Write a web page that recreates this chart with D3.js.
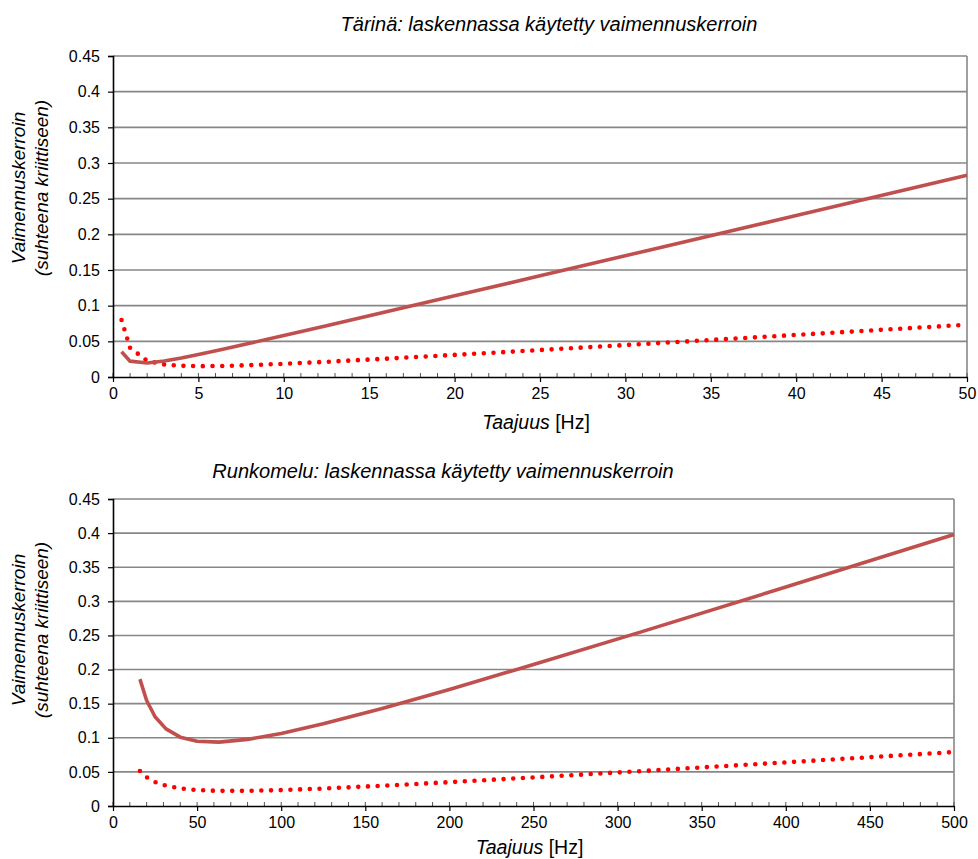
<!DOCTYPE html>
<html>
<head>
<meta charset="utf-8">
<script src="https://cdn.jsdelivr.net/npm/d3@7"></script>
<style>
  body { margin: 0; background: #fff; }
  text { font-family: "Liberation Sans", Arial, sans-serif; fill: #000; }
</style>
</head>
<body>
<svg id="canvas"></svg>
<script>
var width = 978;
var height = 859;

// Tärinä (vibration), Hz
const vibFreq = [0.5, 1, 2, 3, 4, 5, 6.3, 8, 10, 12.5, 16, 20, 25, 31.5, 40, 50];
const vibSolid = [0.0353, 0.0222, 0.0196, 0.0225, 0.0267, 0.0316, 0.0382, 0.0473, 0.0582, 0.0719, 0.0914, 0.1138, 0.1419, 0.1785, 0.2264, 0.2828];
const vibDotted = [0.080, 0.041, 0.0227, 0.0176, 0.0157, 0.0152, 0.0154, 0.0166, 0.0185, 0.0213, 0.0257, 0.0310, 0.0378, 0.0469, 0.0590, 0.0733];

// Runkomelu (structure-borne noise), 1/3 octave bands
const noiseFreq = [16, 20, 25, 31.5, 40, 50, 63, 80, 100, 125, 160, 200, 250, 315, 400, 500];
const noiseSolid = [0.186, 0.1547, 0.1308, 0.113, 0.1009, 0.0949, 0.0936, 0.0976, 0.1063, 0.1204, 0.143, 0.1709, 0.2074, 0.256, 0.321, 0.398];
const noiseDotted = [0.0513, 0.0421, 0.0351, 0.0297, 0.0257, 0.0234, 0.0222, 0.0222, 0.0233, 0.0256, 0.0297, 0.0349, 0.0419, 0.0513, 0.0640, 0.0791];

const yTicks = [0, 0.05, 0.1, 0.15, 0.2, 0.25, 0.3, 0.35, 0.4, 0.45];
const vibXTicks = [0, 5, 10, 15, 20, 25, 30, 35, 40, 45, 50];
const noiseXTicks = [0, 50, 100, 150, 200, 250, 300, 350, 400, 450, 500];

var svg = d3.select('#canvas').attr('width', width).attr('height', height);

function drawChart(cfg) {
    let g = svg.append('g');

    let x = d3.scaleLinear().domain([0, cfg.xMax]).range([cfg.left, cfg.right]);
    let y = d3.scaleLinear().domain([0, 0.45]).range([cfg.bottom, cfg.top]);

    // gridlines
    g.selectAll('.grid')
        .data(yTicks.filter(d => d > 0))
        .enter()
        .append('line')
        .attr('x1', cfg.left).attr('x2', cfg.right)
        .attr('y1', d => y(d)).attr('y2', d => y(d))
        .attr('stroke', '#878787').attr('stroke-width', 1.6);

    // right border
    g.append('line')
        .attr('x1', cfg.right).attr('x2', cfg.right)
        .attr('y1', cfg.top).attr('y2', cfg.bottom)
        .attr('stroke', '#878787').attr('stroke-width', 1.6);

    // minor x ticks (inside)
    g.selectAll('.minor')
        .data(d3.range(0, cfg.xMax + 0.001, cfg.minorStep))
        .enter()
        .append('line')
        .attr('x1', d => x(d)).attr('x2', d => x(d))
        .attr('y1', cfg.bottom).attr('y2', cfg.bottom - 4)
        .attr('stroke', '#555').attr('stroke-width', 1);

    // y axis
    let yAxis = d3.axisLeft(y).tickValues(yTicks).tickSize(5).tickPadding(8)
        .tickFormat(d => String(+d.toFixed(2)));
    let ya = g.append('g').attr('transform', 'translate(' + cfg.left + ',0)').call(yAxis);
    ya.select('.domain').attr('stroke', '#000').attr('stroke-width', 1.6);
    ya.selectAll('.tick line').attr('stroke', '#000').attr('stroke-width', 1.2);
    ya.selectAll('text').style('font-size', '16px').attr('fill', '#000')
        .style('font-family', '"Liberation Sans", Arial, sans-serif');

    // x axis
    let xAxis = d3.axisBottom(x).tickValues(cfg.xTicks).tickSize(5).tickPadding(6).tickSizeOuter(0);
    let xa = g.append('g').attr('transform', 'translate(0,' + cfg.bottom + ')').call(xAxis);
    xa.select('.domain').attr('stroke', '#000').attr('stroke-width', 1.6);
    xa.selectAll('.tick line').attr('stroke', '#000').attr('stroke-width', 1.2);
    xa.selectAll('text').style('font-size', '16px').attr('fill', '#000')
        .style('font-family', '"Liberation Sans", Arial, sans-serif');

    let line = d3.line().x(d => x(d[0])).y(d => y(d[1]));

    // dotted series
    g.append('path')
        .attr('d', line(d3.zip(cfg.freq, cfg.dotted)))
        .attr('fill', 'none')
        .attr('stroke', '#ff0000')
        .attr('stroke-width', 4.6)
        .attr('stroke-linecap', 'round')
        .attr('stroke-dasharray', '0 9.7');

    // solid series
    g.append('path')
        .attr('d', line(d3.zip(cfg.freq, cfg.solid)))
        .attr('fill', 'none')
        .attr('stroke', '#c0504d')
        .attr('stroke-width', 3.6)
        .attr('stroke-linejoin', 'round');

    // title
    g.append('text')
        .attr('x', cfg.titleX).attr('y', cfg.titleY)
        .attr('text-anchor', 'middle')
        .style('font-size', '20px').style('font-style', 'italic')
        .text(cfg.title);

    // y axis title
    let yt = g.append('text')
        .attr('transform', 'translate(0,' + cfg.yTitleY + ') rotate(-90)')
        .attr('text-anchor', 'middle')
        .style('font-size', '19px').style('font-style', 'italic');
    yt.append('tspan').attr('x', 0).attr('y', 25).text('Vaimennuskerroin');
    yt.append('tspan').attr('x', 0).attr('y', 48).text('(suhteena kriittiseen)');

    // x axis title
    let xt = g.append('text')
        .attr('x', (cfg.left + cfg.right) / 2 - 4).attr('y', cfg.xTitleY)
        .attr('text-anchor', 'middle')
        .style('font-size', '19.5px');
    xt.append('tspan').style('font-style', 'italic').text('Taajuus');
    xt.append('tspan').text(' [Hz]');
}

drawChart({
    left: 113, right: 967, top: 56, bottom: 377,
    xMax: 50, minorStep: 1, xTicks: vibXTicks,
    freq: vibFreq, solid: vibSolid, dotted: vibDotted,
    title: 'Tärinä: laskennassa käytetty vaimennuskerroin',
    titleX: 549, titleY: 31, yTitleY: 188, xTitleY: 429
});

drawChart({
    left: 113, right: 954, top: 499, bottom: 806,
    xMax: 500, minorStep: 10, xTicks: noiseXTicks,
    freq: noiseFreq, solid: noiseSolid, dotted: noiseDotted,
    title: 'Runkomelu: laskennassa käytetty vaimennuskerroin',
    titleX: 443, titleY: 478, yTitleY: 630, xTitleY: 854
});
</script>
</body>
</html>
